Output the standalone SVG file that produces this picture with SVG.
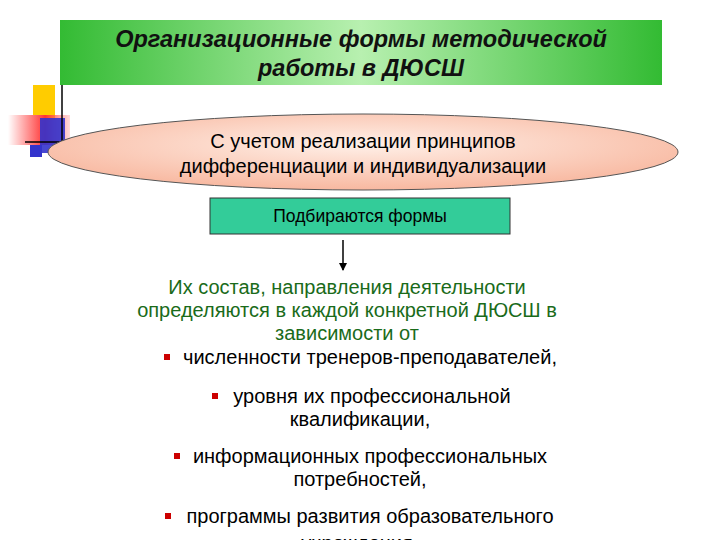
<svg xmlns="http://www.w3.org/2000/svg" width="720" height="540" viewBox="0 0 720 540">
<defs>
<linearGradient id="gT" x1="0" y1="0" x2="1" y2="0"><stop offset="0" stop-color="#33bb33"/><stop offset="0.5" stop-color="#b8f0b0"/><stop offset="1" stop-color="#33bb33"/></linearGradient>
<radialGradient id="gE" cx="0.5" cy="0.4" r="0.6"><stop offset="0" stop-color="#fff0e8"/><stop offset="1" stop-color="#f8b8a0"/></radialGradient>
<linearGradient id="gR" x1="0" y1="0" x2="1" y2="0"><stop offset="0" stop-color="#ffffff"/><stop offset="0.6" stop-color="#ff3333"/><stop offset="1" stop-color="#ff8888" stop-opacity="0.3"/></linearGradient>
<marker id="ar" markerWidth="8" markerHeight="8" refX="7" refY="4" orient="auto" markerUnits="userSpaceOnUse"><path d="M0,0 L8,4 L0,8 Z" fill="#000"/></marker>
<style>
.t{font-family:"Liberation Sans",Arial,sans-serif;font-size:20px;text-anchor:middle}
.g{fill:#1a6b1a}
</style>
</defs>
<g id="decor">
<rect x="33" y="85" width="22" height="35" fill="#ffcc00"/>
<rect x="8" y="115" width="62" height="30" fill="url(#gR)"/>
<rect x="40" y="118" width="25" height="35" fill="#3333cc" opacity="0.9"/>
<rect x="30" y="145" width="12" height="12" fill="#3333cc"/>
<line x1="62" y1="85" x2="62" y2="148" stroke="#000" stroke-width="1.5"/>
<line x1="25" y1="142" x2="62" y2="142" stroke="#000" stroke-width="1.5"/>
</g>
<g id="title">
<rect x="60" y="20" width="602" height="65" fill="url(#gT)"/>
<text class="t" x="361" y="47" style="font-size:23.5px;font-style:italic;font-weight:bold" fill="#111">Организационные формы методической</text>
<text class="t" x="361" y="76" style="font-size:23.5px;font-style:italic;font-weight:bold" fill="#111">работы в ДЮСШ</text>
</g>
<g id="ellipse">
<ellipse cx="363" cy="152" rx="315" ry="38" fill="url(#gE)" stroke="#555" stroke-width="1"/>
<text class="t" x="363" y="148">С учетом реализации принципов</text>
<text class="t" x="363" y="173">дифференциации и индивидуализации</text>
</g>
<g id="box">
<rect x="210" y="198" width="300" height="36" fill="#33cc99" stroke="#333" stroke-width="1"/>
<text class="t" x="360" y="222" style="font-size:17.5px">Подбираются формы</text>
</g>
<g id="connectors">
<line x1="343" y1="240" x2="343" y2="270" stroke="#000" stroke-width="1.5" marker-end="url(#ar)"/>
</g>
<g id="body">
<text class="t g" x="347" y="294">Их состав, направления деятельности</text>
<text class="t g" x="347" y="317">определяются в каждой конкретной ДЮСШ в</text>
<text class="t g" x="347" y="340">зависимости от</text>
<rect x="164" y="354" width="6" height="6" fill="#cc0000"/>
<text class="t" x="370" y="364">численности тренеров-преподавателей,</text>
<rect x="212" y="393" width="6" height="6" fill="#cc0000"/>
<text class="t" x="372" y="403">уровня их профессиональной</text>
<text class="t" x="360" y="426">квалификации,</text>
<rect x="174" y="453" width="6" height="6" fill="#cc0000"/>
<text class="t" x="370" y="463">информационных профессиональных</text>
<text class="t" x="360" y="486">потребностей,</text>
<rect x="165" y="513" width="6" height="6" fill="#cc0000"/>
<text class="t" x="370" y="523">программы развития образовательного</text>
<text class="t" x="357" y="550">учреждения</text>
</g>
</svg>
